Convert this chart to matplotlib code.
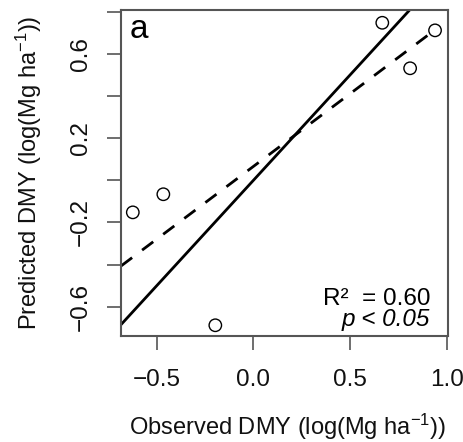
import numpy as np
import matplotlib
matplotlib.use("Agg")
import matplotlib.pyplot as plt

plt.rcParams['font.family'] = ['Liberation Sans', 'DejaVu Sans']
plt.rcParams['mathtext.fontset'] = 'custom'
plt.rcParams['mathtext.rm'] = 'Liberation Sans'
plt.rcParams['mathtext.it'] = 'Liberation Sans:italic'

# observed vs predicted (log Mg ha-1)
observed = [-0.624, -0.466, -0.197, 0.667, 0.811, 0.940]
predicted = [-0.152, -0.066, -0.688, 0.748, 0.532, 0.712]

# fitted regression line (dashed)
fit_slope = 0.690
fit_intercept = 0.066

x_ticks = [-0.5, 0.0, 0.5, 1.0]
y_ticks = [-0.6, -0.4, -0.2, 0.0, 0.2, 0.4, 0.6, 0.8]
y_labelled = [-0.6, -0.2, 0.2, 0.6]

xlim = (-0.685, 1.007)
ylim = (-0.739, 0.811)

fig = plt.figure(figsize=(4.64, 4.42), dpi=100)
ax = fig.add_axes([0.2608, 0.2398, 0.7047, 0.7387])

axis_col = '#555555'
fs = 17.5

# 1:1 line
ax.axline((0, 0), slope=1, color='black', lw=2.0, zorder=2)

# regression line, from the left edge to the last observation
xs = np.array([xlim[0], max(observed)])
ax.plot(xs, fit_intercept + fit_slope * xs, color='black', lw=2.0,
        dashes=(5, 4.5), zorder=2)

ax.scatter(observed, predicted, s=80, facecolors='none', edgecolors='black',
           linewidths=1.0, zorder=3)

ax.set_xlim(*xlim)
ax.set_ylim(*ylim)

ax.set_xticks(x_ticks)
ax.set_xticklabels([f"{v:.1f}".replace('-', '\u2212') for v in x_ticks])
ax.set_yticks(y_ticks)
ax.set_yticklabels([f"{v:.1f}".replace('-', '\u2212') if v in y_labelled else ''
                    for v in y_ticks], rotation=90, va='center')

ax.tick_params(axis='both', length=10, width=1.2, color=axis_col,
               labelsize=fs, labelcolor='#111111')
ax.tick_params(axis='x', pad=14)
ax.tick_params(axis='y', pad=11)
for sp in ax.spines.values():
    sp.set_color(axis_col)
    sp.set_linewidth(1.5)

ax.set_xlabel(r'Observed DMY (log(Mg ha$^{-1}$))', fontsize=17, color='#111111')
ax.set_ylabel(r'Predicted DMY (log(Mg ha$^{-1}$))', fontsize=17, color='#111111')
ax.xaxis.set_label_coords(0.51, -0.232)
ax.yaxis.set_label_coords(-0.235, 0.5)

ax.text(0.025, 0.985, 'a', transform=ax.transAxes, fontsize=24,
        ha='left', va='top')
ax.text(0.946, 0.095, 'R\u00b2  = 0.60', transform=ax.transAxes, fontsize=fs,
        ha='right', va='baseline')
ax.text(0.946, 0.031, 'p < 0.05', transform=ax.transAxes, fontsize=fs,
        ha='right', va='baseline', style='italic')

fig.savefig('out.png', dpi=100)
